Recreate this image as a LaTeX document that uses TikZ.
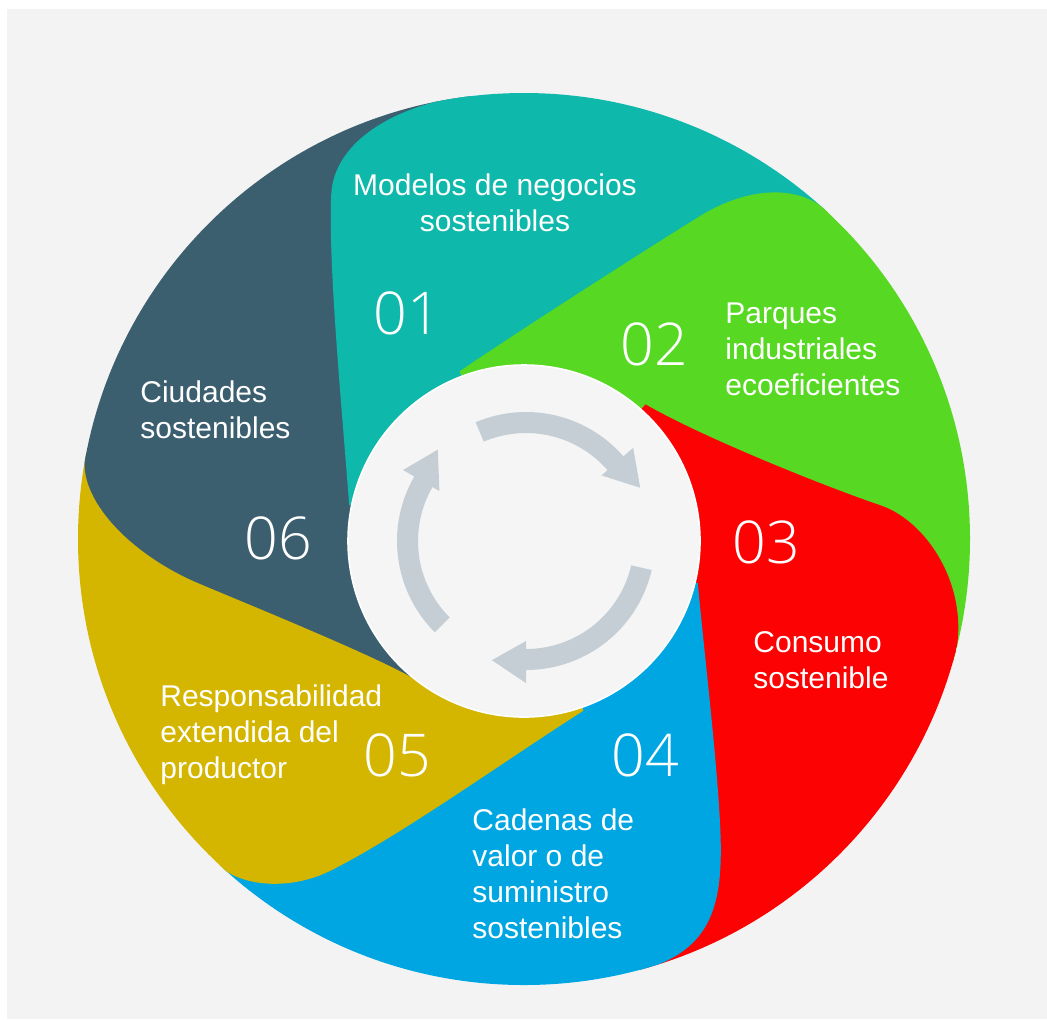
\documentclass[tikz,border=0pt]{standalone}
\usepackage{fontspec}
\setmainfont{Liberation Sans}
\newfontfamily\numfont{Open Sans Light}
\definecolor{cbg}{RGB}{243,243,243}
\definecolor{cinner}{RGB}{245,245,245}
\definecolor{cdark}{RGB}{60,95,112}
\definecolor{cteal}{RGB}{14,184,170}
\definecolor{cgreen}{RGB}{87,216,34}
\definecolor{cred}{RGB}{252,2,2}
\definecolor{cblue}{RGB}{0,166,226}
\definecolor{cyell}{RGB}{212,182,0}
\definecolor{carrow}{RGB}{196,206,212}
\newcommand\Lleft[1]{\vtop{\halign{##\hfil\cr #1\crcr}}}
\newcommand\Lcent[1]{\vtop{\halign{\hfil##\hfil\cr #1\crcr}}}
\begin{document}
\begin{tikzpicture}[x=0.5pt,y=-0.5pt,
  lbl/.style={text=white, inner sep=0pt, font=\fontsize{15}{18}\selectfont},
  num/.style={text=white, inner sep=0pt, font=\numfont\fontsize{29.5}{30}\selectfont},
  seam/.style={line width=0.8pt}]
\useasboundingbox (0,0) rectangle (1047,1019);
\fill[white] (0,0) rectangle (1047,1019);
\fill[cbg] (7,9) rectangle (1047,1019);

\begin{scope}
\clip (524,539) circle[radius=446];
% 01 teal
\fill[cteal] (350,505) .. controls (342,400) and (329,265) .. (332,195) .. controls (334.4,140) and (400,104.5) .. (470,96.3)
  -- (446.6,-96.3) -- (960.5,70.9) -- (828.2,212.8)
  .. controls (795.3,182.1) and (742.5,190.5) .. (700,217) .. controls (649,248.8) and (540,318) .. (460,372)
  -- (524,539) -- cycle;
% 02 green
\fill[cgreen] (460,372) .. controls (540,318) and (649,248.8) .. (700,217) .. controls (742.5,190.5) and (795.3,182.1) .. (828.2,212.8)
  -- (960.5,70.9) -- (1139.2,715.4) -- (952.7,661.9)
  .. controls (972,594.6) and (930,523) .. (880,506) .. controls (823,486.7) and (700,437) .. (645,405)
  -- (524,539) -- cycle;
% 03 red
\fill[cred] (645,405) .. controls (700,437) and (823,486.7) .. (880,506) .. controls (930,523) and (972,594.6) .. (952.7,661.9)
  -- (1139.2,715.4) -- (689.6,1157.2) -- (639.4,969.8)
  .. controls (707,951.7) and (720,910) .. (720,850) .. controls (720,790) and (703,650) .. (697,583)
  -- (524,539) -- cycle;
% 04 blue
\fill[cblue] (697,583) .. controls (703,650) and (720,790) .. (720,850) .. controls (720,910) and (707,951.7) .. (639.4,969.8)
  -- (689.6,1157.2) -- (87.5,1007.1) -- (219.8,865.2)
  .. controls (241.7,885.7) and (290,890) .. (330,870) .. controls (400,835) and (500,763) .. (583,710)
  -- (524,539) -- cycle;
% 05 yellow
\fill[cyell] (583,710) .. controls (500,763) and (400,835) .. (330,870) .. controls (290,890) and (241.7,885.7) .. (219.8,865.2)
  -- (87.5,1007.1) -- (-104.2,416.9) -- (86.2,453.9)
  .. controls (77.6,498.1) and (130.9,554) .. (200,583) .. controls (255.3,606.2) and (370,653) .. (413,677)
  -- (524,539) -- cycle;
% 06 dark
\fill[cdark] (413,677) .. controls (370,653) and (255.3,606.2) .. (200,583) .. controls (130.9,554) and (77.6,498.1) .. (86.2,453.9)
  -- (-104.2,416.9) -- (446.6,-96.3) -- (470,96.3)
  .. controls (400,104.5) and (334.4,140) .. (332,195) .. controls (329,265) and (342,400) .. (350,505)
  -- (524,539) -- cycle;
% seams (upper petal colour)
\draw[seam,cteal] (350,505) .. controls (342,400) and (329,265) .. (332,195) .. controls (334.4,140) and (400,104.5) .. (470,96.3);
\draw[seam,cgreen] (460,372) .. controls (540,318) and (649,248.8) .. (700,217) .. controls (742.5,190.5) and (795.3,182.1) .. (828.2,212.8);
\draw[seam,cred] (645,405) .. controls (700,437) and (823,486.7) .. (880,506) .. controls (930,523) and (972,594.6) .. (952.7,661.9);
\draw[seam,cblue] (697,583) .. controls (703,650) and (720,790) .. (720,850) .. controls (720,910) and (707,951.7) .. (639.4,969.8);
\draw[seam,cyell] (583,710) .. controls (500,763) and (400,835) .. (330,870) .. controls (290,890) and (241.7,885.7) .. (219.8,865.2);
\draw[seam,cdark] (413,677) .. controls (370,653) and (255.3,606.2) .. (200,583) .. controls (130.9,554) and (77.6,498.1) .. (86.2,453.9);
\end{scope}

% inner disk
\fill[cinner] (524,541) circle[radius=176];
\draw[white, line width=0.8pt] (524,541) circle[radius=176];

% cycle arrows
\begin{scope}[shift={(526,541)}, yscale=-1]
\fill[carrow] plot[domain=113:41, samples=40] (\x:129) -- (41:142) -- (25:126) -- (41:100) -- plot[domain=41:113, samples=40] (\x:108) -- cycle;
\fill[carrow] plot[domain=-13:-90, samples=40] (\x:129) -- (-90:142) -- (-106:124) -- (-90:100) -- plot[domain=-90:-13, samples=40] (\x:108) -- cycle;
\fill[carrow] plot[domain=225:150, samples=40] (\x:129) -- (150:142) -- (134:127) -- (150:100) -- plot[domain=150:225, samples=40] (\x:108) -- cycle;
\end{scope}

% labels
\node[lbl, anchor=base] (t1) at (495,195) {\Lcent{Modelos de negocios\cr sostenibles}};
\node[lbl, anchor=base west] (t2) at (725,323) {\Lleft{Parques\cr industriales\cr ecoeficientes}};
\node[lbl, anchor=base west] (t3) at (753,652) {\Lleft{Consumo\cr sostenible}};
\node[lbl, anchor=base west] (t4) at (472,830) {\Lleft{Cadenas de\cr valor o de\cr suministro\cr sostenibles}};
\node[lbl, anchor=base west] (t5) at (160,706) {\Lleft{Responsabilidad\cr extendida del\cr productor}};
\node[lbl, anchor=base west] (t6) at (140,402) {\Lleft{Ciudades\cr sostenibles}};

% numbers
\node[num] (n1) at (407,313) {01};
\node[num] (n2) at (654,344) {02};
\node[num] (n3) at (766,542) {03};
\node[num] (n4) at (645,755) {04};
\node[num] (n5) at (397,755) {05};
\node[num] (n6) at (278,538) {06};
\end{tikzpicture}
\end{document}
